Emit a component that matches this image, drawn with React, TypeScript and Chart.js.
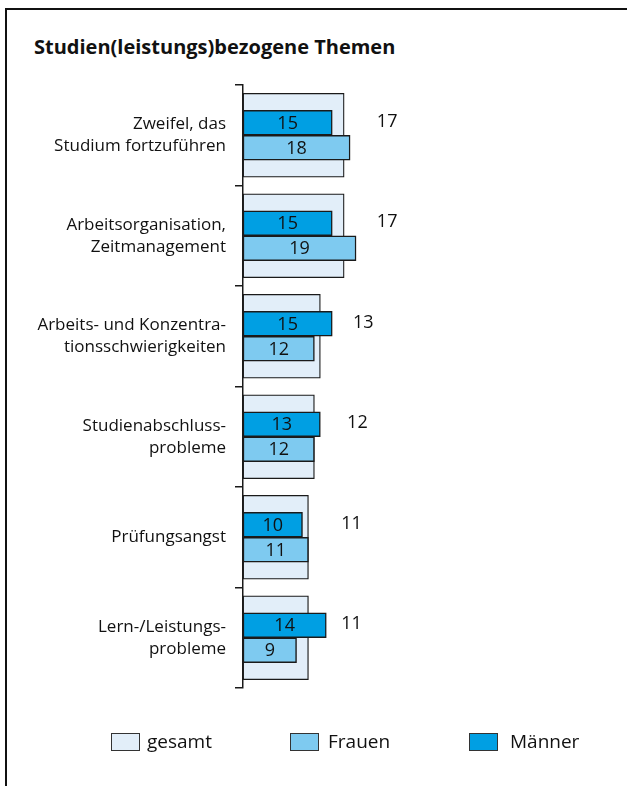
import React, { useEffect, useRef } from "react";
import { Chart, registerables } from "chart.js";

Chart.register(...registerables);

const categories: string[][] = [
  ["Zweifel, das", "Studium fortzuführen"],
  ["Arbeitsorganisation,", "Zeitmanagement"],
  ["Arbeits- und Konzentra-", "tionsschwierigkeiten"],
  ["Studienabschluss-", "probleme"],
  ["Prüfungsangst"],
  ["Lern-/Leistungs-", "probleme"],
];
const gesamt = [17, 17, 13, 12, 11, 11];
const maenner = [15, 15, 15, 13, 10, 14];
const frauen = [18, 19, 12, 12, 11, 9];

const seriesNames = ["gesamt", "Frauen", "Männer"];
const title = "Studien(leistungs)bezogene Themen";

const COL_GESAMT = "#e2eef9";
const COL_FRAUEN = "#7ecaf0";
const COL_MAENNER = "#009fe3";
const BORDER = "#1a1a1a";
const FONT = "'Open Sans', 'Noto Sans', sans-serif";

const labelPlugin = {
  id: "valueLabels",
  afterDatasetsDraw(chart: any) {
    const ctx = chart.ctx;
    const mG = chart.getDatasetMeta(0);
    const mM = chart.getDatasetMeta(1);
    const mF = chart.getDatasetMeta(2);
    ctx.save();
    ctx.fillStyle = "#111";
    ctx.font = `18px ${FONT}`;
    ctx.textAlign = "center";
    ctx.textBaseline = "middle";
    for (let i = 0; i < categories.length; i++) {
      const bm = mM.data[i];
      const bf = mF.data[i];
      const bg = mG.data[i];
      ctx.fillText(String(maenner[i]), (bm.base + bm.x) / 2, bm.y + 1);
      ctx.fillText(String(frauen[i]), (bf.base + bf.x) / 2, bf.y + 1);
      ctx.fillText(String(gesamt[i]), bg.x + 43, bm.y - 1);
    }
    ctx.restore();
  },
};

export default function App() {
  const ref = useRef<HTMLCanvasElement | null>(null);
  useEffect(() => {
    if (!ref.current) return;
    const chart = new Chart(ref.current, {
      type: "bar",
      data: {
        labels: categories,
        datasets: [
          {
            label: seriesNames[0],
            data: gesamt,
            backgroundColor: COL_GESAMT,
            borderColor: BORDER,
            borderWidth: 1.3,
            borderSkipped: false,
            grouped: false,
            barThickness: 84,
            order: 2,
          } as any,
          {
            label: seriesNames[2],
            data: maenner,
            backgroundColor: COL_MAENNER,
            borderColor: BORDER,
            borderWidth: 1.5,
            borderSkipped: false,
            barThickness: 25,
            order: 1,
          },
          {
            label: seriesNames[1],
            data: frauen,
            backgroundColor: COL_FRAUEN,
            borderColor: BORDER,
            borderWidth: 1.5,
            borderSkipped: false,
            barThickness: 25,
            order: 1,
          },
        ],
      },
      options: {
        indexAxis: "y",
        responsive: false,
        animation: false,
        devicePixelRatio: 1,
        layout: { padding: { left: 0, right: 27, top: 85, bottom: 98 } },
        plugins: {
          legend: { display: false },
          tooltip: { enabled: false },
          title: { display: false },
        },
        scales: {
          x: { display: false, min: 0, max: 60 },
          y: {
            afterFit(scale: any) {
              scale.width = 243;
            },
            border: { display: true, color: "#1a1a1a", width: 1.5 },
            grid: {
              drawOnChartArea: false,
              drawTicks: true,
              tickLength: 8,
              offset: true,
              color: "#1a1a1a",
              lineWidth: 1.5,
            },
            ticks: {
              padding: 9,
              color: "#111",
              font: { family: FONT, size: 17, lineHeight: "22px" },
            },
          },
        },
      },
      plugins: [labelPlugin],
    });
    return () => chart.destroy();
  }, []);

  const legendItems = [
    { name: seriesNames[0], color: COL_GESAMT, box: 111, text: 147 },
    { name: seriesNames[1], color: COL_FRAUEN, box: 290, text: 328 },
    { name: seriesNames[2], color: COL_MAENNER, box: 469, text: 510 },
  ];

  return (
    <div style={{ position: "absolute", left: 0, top: 0, width: 627, height: 786, background: "#fff", overflow: "hidden" }}>
      <div
        style={{
          position: "absolute",
          left: 5,
          top: 8,
          width: 640,
          height: 800,
          borderTop: "2px solid #111",
          borderLeft: "2px solid #111",
          boxSizing: "border-box",
        }}
      />
      <div
        style={{
          position: "absolute",
          left: 34,
          top: 32,
          fontFamily: FONT,
          fontWeight: 700,
          fontSize: 20,
          lineHeight: "30px",
          color: "#111",
          whiteSpace: "nowrap",
        }}
      >
        {title}
      </div>
      <canvas ref={ref} width={627} height={786} style={{ position: "absolute", left: 0, top: 0, width: 627, height: 786 }} />
      {legendItems.map((it) => (
        <React.Fragment key={it.name}>
          <div
            style={{
              position: "absolute",
              left: it.box,
              top: 733,
              width: 29,
              height: 18,
              background: it.color,
              border: "1.5px solid #333",
              boxSizing: "border-box",
            }}
          />
          <div
            style={{
              position: "absolute",
              left: it.text,
              top: 727,
              fontFamily: FONT,
              fontSize: 19,
              lineHeight: "28px",
              color: "#111",
              whiteSpace: "nowrap",
            }}
          >
            {it.name}
          </div>
        </React.Fragment>
      ))}
    </div>
  );
}
